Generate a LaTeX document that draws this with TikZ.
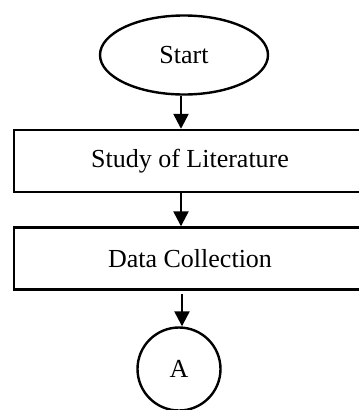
\documentclass[tikz,border=0pt]{standalone}
\usepackage{fontspec}
\setmainfont{Liberation Serif}
\usetikzlibrary{shapes.geometric,arrows.meta}
\begin{document}
\begin{tikzpicture}[x=1pt,y=-1pt,
  every node/.style={font=\fontsize{26}{30}\selectfont, line width=2.4pt, draw, inner sep=0pt},
  procbox/.style={rectangle, minimum width=352pt, minimum height=62pt},
  arr/.style={line width=2.4pt, -{Triangle[width=15pt,length=15pt]}}]
\useasboundingbox (0,0) rectangle (359,410);
\node[ellipse, minimum width=168pt, minimum height=79pt] (start) at (184,55) {Start};
\node[procbox] (lit) at (190,161) {Study of Literature};
\node[procbox] (data) at (190,258.5) {Data Collection};
\node[circle, minimum size=83pt] (a) at (179,369) {A};
\draw[arr] ([xshift=-3pt]start.south) -- ([xshift=-3pt]start.south |- lit.north);
\draw[arr] ([xshift=-9pt]lit.south) -- ([xshift=-9pt]lit.south |- data.north);
\draw[arr, shorten <=3pt] ([xshift=-8pt]data.south) -- ([xshift=-8pt]data.south |- a.north);
\end{tikzpicture}
\end{document}
